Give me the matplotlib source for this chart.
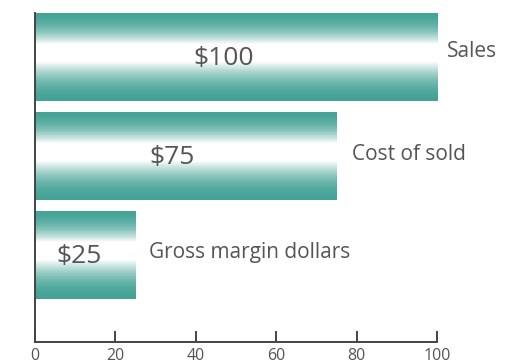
import numpy as np
import matplotlib
matplotlib.use("Agg")
import matplotlib.pyplot as plt

categories = ["Sales", "Cost of sold", "Gross margin dollars"]
values = [100, 75, 25]
value_labels = ["$100", "$75", "$25"]
value_label_x = [47, 34, 11]
xticks = [0, 20, 40, 60, 80, 100]

plt.rcParams['font.family'] = ['Open Sans', 'DejaVu Sans']

fig = plt.figure(figsize=(5.13, 3.64), dpi=100)
ax = fig.add_axes([35/513, 22/364, 402/513, 329/364])

ypos = [2, 1, 0]
bar_h = 0.889
bars = ax.barh(ypos, values, height=bar_h, color="#45a396", edgecolor="none", zorder=1)

# vertical gradient: teal at edges, white band slightly above center
t = np.linspace(0, 1, 300)  # 0 = top, 1 = bottom
teal = np.array([0.27, 0.64, 0.59])
white = np.array([1.0, 1.0, 1.0])
w_top, w_bot = 0.36, 0.56
s = np.where(t < w_top, t / w_top, np.where(t > w_bot, (1 - t) / (1 - w_bot), 1.0))
w = np.clip(s, 0, 1) ** 2.0
img = (teal[None, :] * (1 - w[:, None]) + white[None, :] * w[:, None])
img = img[:, None, :]

for b in bars:
    x0, y0 = b.get_x(), b.get_y()
    wdt, hgt = b.get_width(), b.get_height()
    im = ax.imshow(img, extent=[x0, x0 + wdt, y0, y0 + hgt], aspect='auto',
                   origin='upper', zorder=2, interpolation='bilinear')
    im.set_clip_path(b)

for y, lab, lx in zip(ypos, value_labels, value_label_x):
    ax.text(lx, y - 0.02, lab, fontsize=19, color="#555555", ha="center", va="center", zorder=3)

offsets = [(7, 4), (11, 1), (10, 2)]
for y, v, c, off in zip(ypos, values, categories, offsets):
    ax.annotate(c, xy=(v, y), xytext=off,
                textcoords="offset points", fontsize=15, color="#555555",
                ha="left", va="center", annotation_clip=False)

ax.set_xlim(0, 100)
ax.set_ylim(-0.879, 2.444)
ax.set_xticks(xticks)
ax.set_xticklabels([str(x) for x in xticks])
ax.set_yticks([])
for s_ in ["top", "right"]:
    ax.spines[s_].set_visible(False)
for s_ in ["left", "bottom"]:
    ax.spines[s_].set_color("#444444")
    ax.spines[s_].set_linewidth(1.4)
ax.tick_params(axis="x", direction="in", length=8, width=1.4, color="#444444",
               labelsize=11.5, labelcolor="#555555", pad=4)
ax.set_facecolor("white")

fig.savefig("out.png", dpi=100)
